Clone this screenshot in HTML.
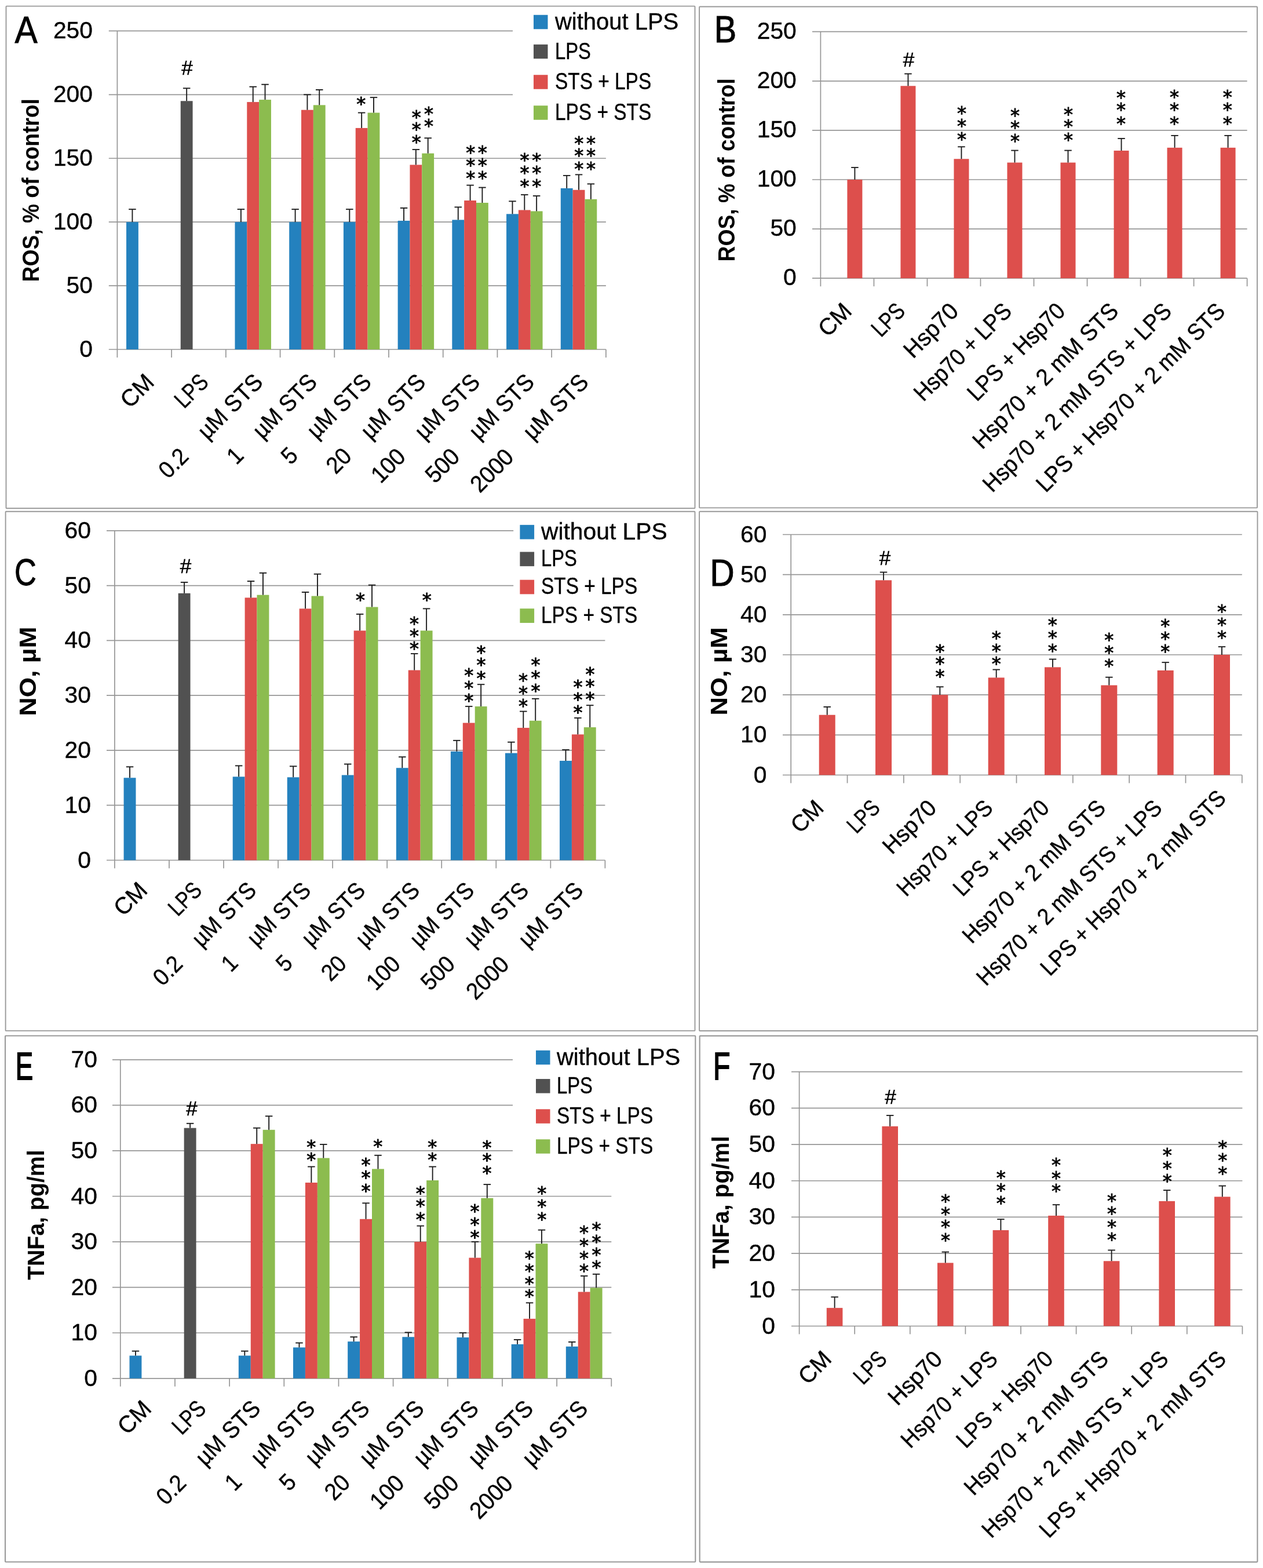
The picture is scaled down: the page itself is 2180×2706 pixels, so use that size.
<!DOCTYPE html>
<html lang="en"><head><meta charset="utf-8"><title>Figure</title>
<style>
html,body{margin:0;padding:0;background:#fff}
svg{display:block}
text{font-family:'Liberation Sans', sans-serif;fill:#000;stroke:#000;stroke-width:0.4px}
text[font-weight=bold]{stroke:none}
.hs{stroke:#000;stroke-width:0.5px}
.lt{stroke:#000;vector-effect:non-scaling-stroke;stroke-linejoin:miter}
.st{font-family:'DejaVu Sans','Liberation Sans',sans-serif;stroke:#000;stroke-width:0.9px}
</style></head><body>
<svg xmlns="http://www.w3.org/2000/svg" width="2180" height="2706" viewBox="0 0 2180 2706">
<rect x="0" y="0" width="2180" height="2706" fill="#fff"/>
<g id="pA">
<rect x="10.5" y="10.6" width="1189" height="866.7" fill="#fff" stroke="#999999" stroke-width="1.9" rx="1"/>
<line x1="187.8" y1="603" x2="1045.9" y2="603" stroke="#969696" stroke-width="1.7"/>
<text transform="translate(160 616)" font-size="40.8" text-anchor="end" xml:space="preserve">0</text>
<line x1="187.8" y1="493.08" x2="1045.9" y2="493.08" stroke="#969696" stroke-width="1.7"/>
<text transform="translate(160 506.08)" font-size="40.8" text-anchor="end" xml:space="preserve">50</text>
<line x1="187.8" y1="383.16" x2="1045.9" y2="383.16" stroke="#969696" stroke-width="1.7"/>
<text transform="translate(160 396.16)" font-size="40.8" text-anchor="end" xml:space="preserve">100</text>
<line x1="187.8" y1="273.24" x2="1045.9" y2="273.24" stroke="#969696" stroke-width="1.7"/>
<text transform="translate(160 286.24)" font-size="40.8" text-anchor="end" xml:space="preserve">150</text>
<line x1="187.8" y1="163.32" x2="885" y2="163.32" stroke="#969696" stroke-width="1.7"/>
<text transform="translate(160 176.32)" font-size="40.8" text-anchor="end" xml:space="preserve">200</text>
<line x1="187.8" y1="53.4" x2="885" y2="53.4" stroke="#969696" stroke-width="1.7"/>
<text transform="translate(160 66.4)" font-size="40.8" text-anchor="end" xml:space="preserve">250</text>
<rect x="218.02" y="383.16" width="20.83" height="219.84" fill="#2481BE"/>
<rect x="311.74" y="174.31" width="20.83" height="428.69" fill="#515151"/>
<rect x="405.46" y="383.16" width="20.83" height="219.84" fill="#2481BE"/>
<rect x="426.29" y="176.07" width="20.83" height="426.93" fill="#DD4F4C"/>
<rect x="447.12" y="172.11" width="20.83" height="430.89" fill="#8CBC4F"/>
<rect x="499.19" y="383.16" width="20.83" height="219.84" fill="#2481BE"/>
<rect x="520.01" y="189.7" width="20.83" height="413.3" fill="#DD4F4C"/>
<rect x="540.84" y="181.35" width="20.83" height="421.65" fill="#8CBC4F"/>
<rect x="592.91" y="383.16" width="20.83" height="219.84" fill="#2481BE"/>
<rect x="613.74" y="220.92" width="20.83" height="382.08" fill="#DD4F4C"/>
<rect x="634.56" y="194.54" width="20.83" height="408.46" fill="#8CBC4F"/>
<rect x="686.63" y="380.96" width="20.83" height="222.04" fill="#2481BE"/>
<rect x="707.46" y="284.45" width="20.83" height="318.55" fill="#DD4F4C"/>
<rect x="728.29" y="264.67" width="20.83" height="338.33" fill="#8CBC4F"/>
<rect x="780.35" y="379.42" width="20.83" height="223.58" fill="#2481BE"/>
<rect x="801.18" y="346.01" width="20.83" height="256.99" fill="#DD4F4C"/>
<rect x="822.01" y="349.96" width="20.83" height="253.04" fill="#8CBC4F"/>
<rect x="874.08" y="369.31" width="20.83" height="233.69" fill="#2481BE"/>
<rect x="894.9" y="362.5" width="20.83" height="240.5" fill="#DD4F4C"/>
<rect x="915.73" y="364.47" width="20.83" height="238.53" fill="#8CBC4F"/>
<rect x="967.8" y="324.9" width="20.83" height="278.1" fill="#2481BE"/>
<rect x="988.63" y="327.76" width="20.83" height="275.24" fill="#DD4F4C"/>
<rect x="1009.45" y="343.81" width="20.83" height="259.19" fill="#8CBC4F"/>
<line x1="202.4" y1="53.4" x2="202.4" y2="617" stroke="#969696" stroke-width="1.7"/>
<line x1="296.12" y1="603" x2="296.12" y2="617" stroke="#969696" stroke-width="1.7"/>
<line x1="389.84" y1="603" x2="389.84" y2="617" stroke="#969696" stroke-width="1.7"/>
<line x1="483.57" y1="603" x2="483.57" y2="617" stroke="#969696" stroke-width="1.7"/>
<line x1="577.29" y1="603" x2="577.29" y2="617" stroke="#969696" stroke-width="1.7"/>
<line x1="671.01" y1="603" x2="671.01" y2="617" stroke="#969696" stroke-width="1.7"/>
<line x1="764.73" y1="603" x2="764.73" y2="617" stroke="#969696" stroke-width="1.7"/>
<line x1="858.46" y1="603" x2="858.46" y2="617" stroke="#969696" stroke-width="1.7"/>
<line x1="952.18" y1="603" x2="952.18" y2="617" stroke="#969696" stroke-width="1.7"/>
<line x1="1045.9" y1="603" x2="1045.9" y2="617" stroke="#969696" stroke-width="1.7"/>
<line x1="228.43" y1="361.18" x2="228.43" y2="383.16" stroke="#1e1e1e" stroke-width="1.9"/>
<line x1="222.18" y1="361.18" x2="234.68" y2="361.18" stroke="#1e1e1e" stroke-width="1.9"/>
<line x1="322.16" y1="152.33" x2="322.16" y2="174.31" stroke="#1e1e1e" stroke-width="1.9"/>
<line x1="315.91" y1="152.33" x2="328.41" y2="152.33" stroke="#1e1e1e" stroke-width="1.9"/>
<line x1="415.88" y1="361.18" x2="415.88" y2="383.16" stroke="#1e1e1e" stroke-width="1.9"/>
<line x1="409.63" y1="361.18" x2="422.13" y2="361.18" stroke="#1e1e1e" stroke-width="1.9"/>
<line x1="436.71" y1="149.69" x2="436.71" y2="176.07" stroke="#1e1e1e" stroke-width="1.9"/>
<line x1="430.46" y1="149.69" x2="442.96" y2="149.69" stroke="#1e1e1e" stroke-width="1.9"/>
<line x1="457.53" y1="145.73" x2="457.53" y2="172.11" stroke="#1e1e1e" stroke-width="1.9"/>
<line x1="451.28" y1="145.73" x2="463.78" y2="145.73" stroke="#1e1e1e" stroke-width="1.9"/>
<line x1="509.6" y1="361.18" x2="509.6" y2="383.16" stroke="#1e1e1e" stroke-width="1.9"/>
<line x1="503.35" y1="361.18" x2="515.85" y2="361.18" stroke="#1e1e1e" stroke-width="1.9"/>
<line x1="530.43" y1="163.32" x2="530.43" y2="189.7" stroke="#1e1e1e" stroke-width="1.9"/>
<line x1="524.18" y1="163.32" x2="536.68" y2="163.32" stroke="#1e1e1e" stroke-width="1.9"/>
<line x1="551.25" y1="154.97" x2="551.25" y2="181.35" stroke="#1e1e1e" stroke-width="1.9"/>
<line x1="545" y1="154.97" x2="557.5" y2="154.97" stroke="#1e1e1e" stroke-width="1.9"/>
<line x1="603.32" y1="361.18" x2="603.32" y2="383.16" stroke="#1e1e1e" stroke-width="1.9"/>
<line x1="597.07" y1="361.18" x2="609.57" y2="361.18" stroke="#1e1e1e" stroke-width="1.9"/>
<line x1="624.15" y1="194.54" x2="624.15" y2="220.92" stroke="#1e1e1e" stroke-width="1.9"/>
<line x1="617.9" y1="194.54" x2="630.4" y2="194.54" stroke="#1e1e1e" stroke-width="1.9"/>
<line x1="644.98" y1="168.16" x2="644.98" y2="194.54" stroke="#1e1e1e" stroke-width="1.9"/>
<line x1="638.73" y1="168.16" x2="651.23" y2="168.16" stroke="#1e1e1e" stroke-width="1.9"/>
<line x1="697.05" y1="358.98" x2="697.05" y2="380.96" stroke="#1e1e1e" stroke-width="1.9"/>
<line x1="690.8" y1="358.98" x2="703.3" y2="358.98" stroke="#1e1e1e" stroke-width="1.9"/>
<line x1="717.87" y1="258.07" x2="717.87" y2="284.45" stroke="#1e1e1e" stroke-width="1.9"/>
<line x1="711.62" y1="258.07" x2="724.12" y2="258.07" stroke="#1e1e1e" stroke-width="1.9"/>
<line x1="738.7" y1="238.29" x2="738.7" y2="264.67" stroke="#1e1e1e" stroke-width="1.9"/>
<line x1="732.45" y1="238.29" x2="744.95" y2="238.29" stroke="#1e1e1e" stroke-width="1.9"/>
<line x1="790.77" y1="357.44" x2="790.77" y2="379.42" stroke="#1e1e1e" stroke-width="1.9"/>
<line x1="784.52" y1="357.44" x2="797.02" y2="357.44" stroke="#1e1e1e" stroke-width="1.9"/>
<line x1="811.59" y1="319.63" x2="811.59" y2="346.01" stroke="#1e1e1e" stroke-width="1.9"/>
<line x1="805.34" y1="319.63" x2="817.84" y2="319.63" stroke="#1e1e1e" stroke-width="1.9"/>
<line x1="832.42" y1="323.58" x2="832.42" y2="349.96" stroke="#1e1e1e" stroke-width="1.9"/>
<line x1="826.17" y1="323.58" x2="838.67" y2="323.58" stroke="#1e1e1e" stroke-width="1.9"/>
<line x1="884.49" y1="347.33" x2="884.49" y2="369.31" stroke="#1e1e1e" stroke-width="1.9"/>
<line x1="878.24" y1="347.33" x2="890.74" y2="347.33" stroke="#1e1e1e" stroke-width="1.9"/>
<line x1="905.32" y1="336.11" x2="905.32" y2="362.5" stroke="#1e1e1e" stroke-width="1.9"/>
<line x1="899.07" y1="336.11" x2="911.57" y2="336.11" stroke="#1e1e1e" stroke-width="1.9"/>
<line x1="926.14" y1="338.09" x2="926.14" y2="364.47" stroke="#1e1e1e" stroke-width="1.9"/>
<line x1="919.89" y1="338.09" x2="932.39" y2="338.09" stroke="#1e1e1e" stroke-width="1.9"/>
<line x1="978.21" y1="302.92" x2="978.21" y2="324.9" stroke="#1e1e1e" stroke-width="1.9"/>
<line x1="971.96" y1="302.92" x2="984.46" y2="302.92" stroke="#1e1e1e" stroke-width="1.9"/>
<line x1="999.04" y1="301.38" x2="999.04" y2="327.76" stroke="#1e1e1e" stroke-width="1.9"/>
<line x1="992.79" y1="301.38" x2="1005.29" y2="301.38" stroke="#1e1e1e" stroke-width="1.9"/>
<line x1="1019.87" y1="317.43" x2="1019.87" y2="343.81" stroke="#1e1e1e" stroke-width="1.9"/>
<line x1="1013.62" y1="317.43" x2="1026.12" y2="317.43" stroke="#1e1e1e" stroke-width="1.9"/>
<text transform="translate(268.46 662) rotate(-45) scale(0.9862 1)" font-size="40.73" text-anchor="end" xml:space="preserve">CM</text>
<text transform="translate(362.18 662) rotate(-45) scale(0.8164 1)" font-size="40.73" text-anchor="end" xml:space="preserve">LPS</text>
<text transform="translate(455.91 662) rotate(-45) scale(0.9383 1)" font-size="40.73" text-anchor="end" xml:space="preserve">0.2    µM STS</text>
<text transform="translate(549.63 662) rotate(-45) scale(0.9276 1)" font-size="40.73" text-anchor="end" xml:space="preserve">1    µM STS</text>
<text transform="translate(643.35 662) rotate(-45) scale(0.9276 1)" font-size="40.73" text-anchor="end" xml:space="preserve">5    µM STS</text>
<text transform="translate(737.07 662) rotate(-45) scale(0.9352 1)" font-size="40.73" text-anchor="end" xml:space="preserve">20    µM STS</text>
<text transform="translate(830.79 662) rotate(-45) scale(0.9414 1)" font-size="40.73" text-anchor="end" xml:space="preserve">100    µM STS</text>
<text transform="translate(924.52 662) rotate(-45) scale(0.9414 1)" font-size="40.73" text-anchor="end" xml:space="preserve">500    µM STS</text>
<text transform="translate(1018.24 662) rotate(-45) scale(0.9466 1)" font-size="40.73" text-anchor="end" xml:space="preserve">2000    µM STS</text>
<text transform="translate(623.3 189.54)" font-size="32" text-anchor="middle" class="st" xml:space="preserve">*</text>
<text transform="translate(718.7 212.54)" font-size="32" text-anchor="middle" class="st" xml:space="preserve">*</text>
<text transform="translate(718.7 233.94)" font-size="32" text-anchor="middle" class="st" xml:space="preserve">*</text>
<text transform="translate(718.7 255.54)" font-size="32" text-anchor="middle" class="st" xml:space="preserve">*</text>
<text transform="translate(740 207.14)" font-size="32" text-anchor="middle" class="st" xml:space="preserve">*</text>
<text transform="translate(740 228.44)" font-size="32" text-anchor="middle" class="st" xml:space="preserve">*</text>
<text transform="translate(812.3 274.24)" font-size="32" text-anchor="middle" class="st" xml:space="preserve">*</text>
<text transform="translate(812.3 295.84)" font-size="32" text-anchor="middle" class="st" xml:space="preserve">*</text>
<text transform="translate(812.3 318.04)" font-size="32" text-anchor="middle" class="st" xml:space="preserve">*</text>
<text transform="translate(832.7 274.24)" font-size="32" text-anchor="middle" class="st" xml:space="preserve">*</text>
<text transform="translate(832.7 295.84)" font-size="32" text-anchor="middle" class="st" xml:space="preserve">*</text>
<text transform="translate(832.7 318.04)" font-size="32" text-anchor="middle" class="st" xml:space="preserve">*</text>
<text transform="translate(905.6 287.14)" font-size="32" text-anchor="middle" class="st" xml:space="preserve">*</text>
<text transform="translate(905.6 309.34)" font-size="32" text-anchor="middle" class="st" xml:space="preserve">*</text>
<text transform="translate(905.6 332.44)" font-size="32" text-anchor="middle" class="st" xml:space="preserve">*</text>
<text transform="translate(926.3 287.14)" font-size="32" text-anchor="middle" class="st" xml:space="preserve">*</text>
<text transform="translate(926.3 309.34)" font-size="32" text-anchor="middle" class="st" xml:space="preserve">*</text>
<text transform="translate(926.3 332.44)" font-size="32" text-anchor="middle" class="st" xml:space="preserve">*</text>
<text transform="translate(999.2 257.84)" font-size="32" text-anchor="middle" class="st" xml:space="preserve">*</text>
<text transform="translate(999.2 279.14)" font-size="32" text-anchor="middle" class="st" xml:space="preserve">*</text>
<text transform="translate(999.2 301.84)" font-size="32" text-anchor="middle" class="st" xml:space="preserve">*</text>
<text transform="translate(1019.9 257.84)" font-size="32" text-anchor="middle" class="st" xml:space="preserve">*</text>
<text transform="translate(1019.9 279.14)" font-size="32" text-anchor="middle" class="st" xml:space="preserve">*</text>
<text transform="translate(1019.9 301.84)" font-size="32" text-anchor="middle" class="st" xml:space="preserve">*</text>
<text transform="translate(322.9 129.3)" font-size="35" text-anchor="middle" class="hs" xml:space="preserve">#</text>
<text transform="translate(25.53 73.55) scale(0.5882 0.6570)" font-size="100" class="lt" style="stroke-width:0.9px">A</text>
<text transform="translate(66.6 328.3) rotate(-90) scale(0.9137 1)" font-size="40.73" text-anchor="middle" font-weight="bold" xml:space="preserve">ROS, % of control</text>
<rect x="921" y="25.75" width="24.5" height="24.5" fill="#2481BE"/>
<text transform="translate(958 50.8) scale(0.9970 1)" font-size="40.09" xml:space="preserve">without LPS</text>
<rect x="921" y="76.75" width="24.5" height="24.5" fill="#515151"/>
<text transform="translate(958 101.8) scale(0.8164 1)" font-size="40.09" xml:space="preserve">LPS</text>
<rect x="921" y="129.25" width="24.5" height="24.5" fill="#DD4F4C"/>
<text transform="translate(958 154.3) scale(0.8336 1)" font-size="40.09" xml:space="preserve">STS + LPS</text>
<rect x="921" y="182.25" width="24.5" height="24.5" fill="#8CBC4F"/>
<text transform="translate(958 207.3) scale(0.8336 1)" font-size="40.09" xml:space="preserve">LPS + STS</text>
</g>
<g id="pB">
<rect x="1207.1" y="11.5" width="962.9" height="864.9" fill="#fff" stroke="#999999" stroke-width="1.9" rx="1"/>
<line x1="1402" y1="480.2" x2="2152.6" y2="480.2" stroke="#969696" stroke-width="1.7"/>
<text transform="translate(1374.8 492.2)" font-size="40.8" text-anchor="end" xml:space="preserve">0</text>
<line x1="1402" y1="395.1" x2="2152.6" y2="395.1" stroke="#969696" stroke-width="1.7"/>
<text transform="translate(1374.8 407.1)" font-size="40.8" text-anchor="end" xml:space="preserve">50</text>
<line x1="1402" y1="310" x2="2152.6" y2="310" stroke="#969696" stroke-width="1.7"/>
<text transform="translate(1374.8 322)" font-size="40.8" text-anchor="end" xml:space="preserve">100</text>
<line x1="1402" y1="224.9" x2="2152.6" y2="224.9" stroke="#969696" stroke-width="1.7"/>
<text transform="translate(1374.8 236.9)" font-size="40.8" text-anchor="end" xml:space="preserve">150</text>
<line x1="1402" y1="139.8" x2="2152.6" y2="139.8" stroke="#969696" stroke-width="1.7"/>
<text transform="translate(1374.8 151.8)" font-size="40.8" text-anchor="end" xml:space="preserve">200</text>
<line x1="1402" y1="54.7" x2="2152.6" y2="54.7" stroke="#969696" stroke-width="1.7"/>
<text transform="translate(1374.8 66.7)" font-size="40.8" text-anchor="end" xml:space="preserve">250</text>
<rect x="1462.4" y="310" width="26" height="170.2" fill="#DD4F4C"/>
<rect x="1554.43" y="148.31" width="26" height="331.89" fill="#DD4F4C"/>
<rect x="1646.45" y="274.26" width="26" height="205.94" fill="#DD4F4C"/>
<rect x="1738.47" y="280.56" width="26" height="199.64" fill="#DD4F4C"/>
<rect x="1830.5" y="280.56" width="26" height="199.64" fill="#DD4F4C"/>
<rect x="1922.53" y="259.96" width="26" height="220.24" fill="#DD4F4C"/>
<rect x="2014.55" y="254.86" width="26" height="225.34" fill="#DD4F4C"/>
<rect x="2106.57" y="254.86" width="26" height="225.34" fill="#DD4F4C"/>
<line x1="1416.4" y1="54.7" x2="1416.4" y2="494.2" stroke="#969696" stroke-width="1.7"/>
<line x1="1508.43" y1="480.2" x2="1508.43" y2="494.2" stroke="#969696" stroke-width="1.7"/>
<line x1="1600.45" y1="480.2" x2="1600.45" y2="494.2" stroke="#969696" stroke-width="1.7"/>
<line x1="1692.47" y1="480.2" x2="1692.47" y2="494.2" stroke="#969696" stroke-width="1.7"/>
<line x1="1784.5" y1="480.2" x2="1784.5" y2="494.2" stroke="#969696" stroke-width="1.7"/>
<line x1="1876.53" y1="480.2" x2="1876.53" y2="494.2" stroke="#969696" stroke-width="1.7"/>
<line x1="1968.55" y1="480.2" x2="1968.55" y2="494.2" stroke="#969696" stroke-width="1.7"/>
<line x1="2060.57" y1="480.2" x2="2060.57" y2="494.2" stroke="#969696" stroke-width="1.7"/>
<line x1="2152.6" y1="480.2" x2="2152.6" y2="494.2" stroke="#969696" stroke-width="1.7"/>
<line x1="1475.4" y1="289.07" x2="1475.4" y2="310" stroke="#1e1e1e" stroke-width="1.9"/>
<line x1="1469.15" y1="289.07" x2="1481.65" y2="289.07" stroke="#1e1e1e" stroke-width="1.9"/>
<line x1="1567.43" y1="127.38" x2="1567.43" y2="148.31" stroke="#1e1e1e" stroke-width="1.9"/>
<line x1="1561.18" y1="127.38" x2="1573.68" y2="127.38" stroke="#1e1e1e" stroke-width="1.9"/>
<line x1="1659.45" y1="253.32" x2="1659.45" y2="274.26" stroke="#1e1e1e" stroke-width="1.9"/>
<line x1="1653.2" y1="253.32" x2="1665.7" y2="253.32" stroke="#1e1e1e" stroke-width="1.9"/>
<line x1="1751.47" y1="259.62" x2="1751.47" y2="280.56" stroke="#1e1e1e" stroke-width="1.9"/>
<line x1="1745.22" y1="259.62" x2="1757.72" y2="259.62" stroke="#1e1e1e" stroke-width="1.9"/>
<line x1="1843.5" y1="259.62" x2="1843.5" y2="280.56" stroke="#1e1e1e" stroke-width="1.9"/>
<line x1="1837.25" y1="259.62" x2="1849.75" y2="259.62" stroke="#1e1e1e" stroke-width="1.9"/>
<line x1="1935.53" y1="239.03" x2="1935.53" y2="259.96" stroke="#1e1e1e" stroke-width="1.9"/>
<line x1="1929.28" y1="239.03" x2="1941.78" y2="239.03" stroke="#1e1e1e" stroke-width="1.9"/>
<line x1="2027.55" y1="233.92" x2="2027.55" y2="254.86" stroke="#1e1e1e" stroke-width="1.9"/>
<line x1="2021.3" y1="233.92" x2="2033.8" y2="233.92" stroke="#1e1e1e" stroke-width="1.9"/>
<line x1="2119.57" y1="233.92" x2="2119.57" y2="254.86" stroke="#1e1e1e" stroke-width="1.9"/>
<line x1="2113.32" y1="233.92" x2="2125.82" y2="233.92" stroke="#1e1e1e" stroke-width="1.9"/>
<text transform="translate(1472.61 539.5) rotate(-45) scale(0.9862 1)" font-size="40.45" text-anchor="end" xml:space="preserve">CM</text>
<text transform="translate(1564.64 539.5) rotate(-45) scale(0.8164 1)" font-size="40.45" text-anchor="end" xml:space="preserve">LPS</text>
<text transform="translate(1656.66 539.5) rotate(-45) scale(0.9760 1)" font-size="40.45" text-anchor="end" xml:space="preserve">Hsp70</text>
<text transform="translate(1748.69 539.5) rotate(-45) scale(0.9145 1)" font-size="40.45" text-anchor="end" xml:space="preserve">Hsp70 + LPS</text>
<text transform="translate(1840.71 539.5) rotate(-45) scale(0.9145 1)" font-size="40.45" text-anchor="end" xml:space="preserve">LPS + Hsp70</text>
<text transform="translate(1932.74 539.5) rotate(-45) scale(0.9496 1)" font-size="40.45" text-anchor="end" xml:space="preserve">Hsp70 + 2 mM STS</text>
<text transform="translate(2024.76 539.5) rotate(-45) scale(0.9255 1)" font-size="40.45" text-anchor="end" xml:space="preserve">Hsp70 + 2 mM STS + LPS</text>
<text transform="translate(2116.79 539.5) rotate(-45) scale(0.9255 1)" font-size="40.45" text-anchor="end" xml:space="preserve">LPS + Hsp70 + 2 mM STS</text>
<text transform="translate(1660 205.94)" font-size="32" text-anchor="middle" class="st" xml:space="preserve">*</text>
<text transform="translate(1660 227.74)" font-size="32" text-anchor="middle" class="st" xml:space="preserve">*</text>
<text transform="translate(1660 250.74)" font-size="32" text-anchor="middle" class="st" xml:space="preserve">*</text>
<text transform="translate(1752.1 209.54)" font-size="32" text-anchor="middle" class="st" xml:space="preserve">*</text>
<text transform="translate(1752.1 231.34)" font-size="32" text-anchor="middle" class="st" xml:space="preserve">*</text>
<text transform="translate(1752.1 253.64)" font-size="32" text-anchor="middle" class="st" xml:space="preserve">*</text>
<text transform="translate(1844 208.34)" font-size="32" text-anchor="middle" class="st" xml:space="preserve">*</text>
<text transform="translate(1844 229.44)" font-size="32" text-anchor="middle" class="st" xml:space="preserve">*</text>
<text transform="translate(1844 252.44)" font-size="32" text-anchor="middle" class="st" xml:space="preserve">*</text>
<text transform="translate(1934.9 178.84)" font-size="32" text-anchor="middle" class="st" xml:space="preserve">*</text>
<text transform="translate(1934.9 200.34)" font-size="32" text-anchor="middle" class="st" xml:space="preserve">*</text>
<text transform="translate(1934.9 223.64)" font-size="32" text-anchor="middle" class="st" xml:space="preserve">*</text>
<text transform="translate(2026.9 177.64)" font-size="32" text-anchor="middle" class="st" xml:space="preserve">*</text>
<text transform="translate(2026.9 199.94)" font-size="32" text-anchor="middle" class="st" xml:space="preserve">*</text>
<text transform="translate(2026.9 223.64)" font-size="32" text-anchor="middle" class="st" xml:space="preserve">*</text>
<text transform="translate(2118.8 177.64)" font-size="32" text-anchor="middle" class="st" xml:space="preserve">*</text>
<text transform="translate(2118.8 199.94)" font-size="32" text-anchor="middle" class="st" xml:space="preserve">*</text>
<text transform="translate(2118.8 223.64)" font-size="32" text-anchor="middle" class="st" xml:space="preserve">*</text>
<text transform="translate(1568.5 115)" font-size="35" text-anchor="middle" class="hs" xml:space="preserve">#</text>
<text transform="translate(1232.87 72.9) scale(0.5771 0.6395)" font-size="100" class="lt" style="stroke-width:1.0px">B</text>
<text transform="translate(1268.2 293.3) rotate(-90) scale(0.9137 1)" font-size="40.73" text-anchor="middle" font-weight="bold" xml:space="preserve">ROS, % of control</text>
</g>
<g id="pC">
<rect x="9.6" y="882.8" width="1189.9" height="896.1" fill="#fff" stroke="#999999" stroke-width="1.9" rx="1"/>
<line x1="184" y1="1484.5" x2="1044.4" y2="1484.5" stroke="#969696" stroke-width="1.7"/>
<text transform="translate(157 1497.5)" font-size="40.8" text-anchor="end" xml:space="preserve">0</text>
<line x1="184" y1="1389.72" x2="1044.4" y2="1389.72" stroke="#969696" stroke-width="1.7"/>
<text transform="translate(157 1402.72)" font-size="40.8" text-anchor="end" xml:space="preserve">10</text>
<line x1="184" y1="1294.93" x2="1044.4" y2="1294.93" stroke="#969696" stroke-width="1.7"/>
<text transform="translate(157 1307.93)" font-size="40.8" text-anchor="end" xml:space="preserve">20</text>
<line x1="184" y1="1200.15" x2="1044.4" y2="1200.15" stroke="#969696" stroke-width="1.7"/>
<text transform="translate(157 1213.15)" font-size="40.8" text-anchor="end" xml:space="preserve">30</text>
<line x1="184" y1="1105.37" x2="1044.4" y2="1105.37" stroke="#969696" stroke-width="1.7"/>
<text transform="translate(157 1118.37)" font-size="40.8" text-anchor="end" xml:space="preserve">40</text>
<line x1="184" y1="1010.58" x2="886.2" y2="1010.58" stroke="#969696" stroke-width="1.7"/>
<text transform="translate(157 1023.58)" font-size="40.8" text-anchor="end" xml:space="preserve">50</text>
<line x1="184" y1="915.8" x2="886.2" y2="915.8" stroke="#969696" stroke-width="1.7"/>
<text transform="translate(157 928.8)" font-size="40.8" text-anchor="end" xml:space="preserve">60</text>
<rect x="213.58" y="1342.33" width="20.9" height="142.17" fill="#2481BE"/>
<rect x="307.63" y="1023.85" width="20.9" height="460.65" fill="#515151"/>
<rect x="401.69" y="1340.43" width="20.9" height="144.07" fill="#2481BE"/>
<rect x="422.59" y="1031.44" width="20.9" height="453.06" fill="#DD4F4C"/>
<rect x="443.49" y="1026.7" width="20.9" height="457.8" fill="#8CBC4F"/>
<rect x="495.74" y="1341.38" width="20.9" height="143.12" fill="#2481BE"/>
<rect x="516.64" y="1050.39" width="20.9" height="434.11" fill="#DD4F4C"/>
<rect x="537.55" y="1028.59" width="20.9" height="455.91" fill="#8CBC4F"/>
<rect x="589.8" y="1337.59" width="20.9" height="146.91" fill="#2481BE"/>
<rect x="610.7" y="1088.31" width="20.9" height="396.19" fill="#DD4F4C"/>
<rect x="631.6" y="1047.55" width="20.9" height="436.95" fill="#8CBC4F"/>
<rect x="683.85" y="1325.26" width="20.9" height="159.24" fill="#2481BE"/>
<rect x="704.75" y="1156.55" width="20.9" height="327.95" fill="#DD4F4C"/>
<rect x="725.66" y="1088.31" width="20.9" height="396.19" fill="#8CBC4F"/>
<rect x="777.91" y="1296.83" width="20.9" height="187.67" fill="#2481BE"/>
<rect x="798.81" y="1247.54" width="20.9" height="236.96" fill="#DD4F4C"/>
<rect x="819.71" y="1219.11" width="20.9" height="265.39" fill="#8CBC4F"/>
<rect x="871.96" y="1299.67" width="20.9" height="184.83" fill="#2481BE"/>
<rect x="892.87" y="1256.07" width="20.9" height="228.43" fill="#DD4F4C"/>
<rect x="913.77" y="1243.75" width="20.9" height="240.75" fill="#8CBC4F"/>
<rect x="966.02" y="1312.94" width="20.9" height="171.56" fill="#2481BE"/>
<rect x="986.92" y="1267.45" width="20.9" height="217.05" fill="#DD4F4C"/>
<rect x="1007.82" y="1255.12" width="20.9" height="229.38" fill="#8CBC4F"/>
<line x1="197.9" y1="915.8" x2="197.9" y2="1498.5" stroke="#969696" stroke-width="1.7"/>
<line x1="291.96" y1="1484.5" x2="291.96" y2="1498.5" stroke="#969696" stroke-width="1.7"/>
<line x1="386.01" y1="1484.5" x2="386.01" y2="1498.5" stroke="#969696" stroke-width="1.7"/>
<line x1="480.07" y1="1484.5" x2="480.07" y2="1498.5" stroke="#969696" stroke-width="1.7"/>
<line x1="574.12" y1="1484.5" x2="574.12" y2="1498.5" stroke="#969696" stroke-width="1.7"/>
<line x1="668.18" y1="1484.5" x2="668.18" y2="1498.5" stroke="#969696" stroke-width="1.7"/>
<line x1="762.23" y1="1484.5" x2="762.23" y2="1498.5" stroke="#969696" stroke-width="1.7"/>
<line x1="856.29" y1="1484.5" x2="856.29" y2="1498.5" stroke="#969696" stroke-width="1.7"/>
<line x1="950.34" y1="1484.5" x2="950.34" y2="1498.5" stroke="#969696" stroke-width="1.7"/>
<line x1="1044.4" y1="1484.5" x2="1044.4" y2="1498.5" stroke="#969696" stroke-width="1.7"/>
<line x1="224.03" y1="1323.37" x2="224.03" y2="1342.33" stroke="#1e1e1e" stroke-width="1.9"/>
<line x1="217.78" y1="1323.37" x2="230.28" y2="1323.37" stroke="#1e1e1e" stroke-width="1.9"/>
<line x1="318.08" y1="1004.9" x2="318.08" y2="1023.85" stroke="#1e1e1e" stroke-width="1.9"/>
<line x1="311.83" y1="1004.9" x2="324.33" y2="1004.9" stroke="#1e1e1e" stroke-width="1.9"/>
<line x1="412.14" y1="1321.47" x2="412.14" y2="1340.43" stroke="#1e1e1e" stroke-width="1.9"/>
<line x1="405.89" y1="1321.47" x2="418.39" y2="1321.47" stroke="#1e1e1e" stroke-width="1.9"/>
<line x1="433.04" y1="1003" x2="433.04" y2="1031.44" stroke="#1e1e1e" stroke-width="1.9"/>
<line x1="426.79" y1="1003" x2="439.29" y2="1003" stroke="#1e1e1e" stroke-width="1.9"/>
<line x1="453.94" y1="988.78" x2="453.94" y2="1026.7" stroke="#1e1e1e" stroke-width="1.9"/>
<line x1="447.69" y1="988.78" x2="460.19" y2="988.78" stroke="#1e1e1e" stroke-width="1.9"/>
<line x1="506.19" y1="1322.42" x2="506.19" y2="1341.38" stroke="#1e1e1e" stroke-width="1.9"/>
<line x1="499.94" y1="1322.42" x2="512.44" y2="1322.42" stroke="#1e1e1e" stroke-width="1.9"/>
<line x1="527.09" y1="1021.96" x2="527.09" y2="1050.39" stroke="#1e1e1e" stroke-width="1.9"/>
<line x1="520.84" y1="1021.96" x2="533.34" y2="1021.96" stroke="#1e1e1e" stroke-width="1.9"/>
<line x1="548" y1="990.68" x2="548" y2="1028.59" stroke="#1e1e1e" stroke-width="1.9"/>
<line x1="541.75" y1="990.68" x2="554.25" y2="990.68" stroke="#1e1e1e" stroke-width="1.9"/>
<line x1="600.25" y1="1318.63" x2="600.25" y2="1337.59" stroke="#1e1e1e" stroke-width="1.9"/>
<line x1="594" y1="1318.63" x2="606.5" y2="1318.63" stroke="#1e1e1e" stroke-width="1.9"/>
<line x1="621.15" y1="1059.87" x2="621.15" y2="1088.31" stroke="#1e1e1e" stroke-width="1.9"/>
<line x1="614.9" y1="1059.87" x2="627.4" y2="1059.87" stroke="#1e1e1e" stroke-width="1.9"/>
<line x1="642.05" y1="1009.64" x2="642.05" y2="1047.55" stroke="#1e1e1e" stroke-width="1.9"/>
<line x1="635.8" y1="1009.64" x2="648.3" y2="1009.64" stroke="#1e1e1e" stroke-width="1.9"/>
<line x1="694.3" y1="1306.31" x2="694.3" y2="1325.26" stroke="#1e1e1e" stroke-width="1.9"/>
<line x1="688.05" y1="1306.31" x2="700.55" y2="1306.31" stroke="#1e1e1e" stroke-width="1.9"/>
<line x1="715.21" y1="1128.11" x2="715.21" y2="1156.55" stroke="#1e1e1e" stroke-width="1.9"/>
<line x1="708.96" y1="1128.11" x2="721.46" y2="1128.11" stroke="#1e1e1e" stroke-width="1.9"/>
<line x1="736.11" y1="1050.39" x2="736.11" y2="1088.31" stroke="#1e1e1e" stroke-width="1.9"/>
<line x1="729.86" y1="1050.39" x2="742.36" y2="1050.39" stroke="#1e1e1e" stroke-width="1.9"/>
<line x1="788.36" y1="1277.87" x2="788.36" y2="1296.83" stroke="#1e1e1e" stroke-width="1.9"/>
<line x1="782.11" y1="1277.87" x2="794.61" y2="1277.87" stroke="#1e1e1e" stroke-width="1.9"/>
<line x1="809.26" y1="1219.11" x2="809.26" y2="1247.54" stroke="#1e1e1e" stroke-width="1.9"/>
<line x1="803.01" y1="1219.11" x2="815.51" y2="1219.11" stroke="#1e1e1e" stroke-width="1.9"/>
<line x1="830.16" y1="1181.19" x2="830.16" y2="1219.11" stroke="#1e1e1e" stroke-width="1.9"/>
<line x1="823.91" y1="1181.19" x2="836.41" y2="1181.19" stroke="#1e1e1e" stroke-width="1.9"/>
<line x1="882.42" y1="1280.72" x2="882.42" y2="1299.67" stroke="#1e1e1e" stroke-width="1.9"/>
<line x1="876.17" y1="1280.72" x2="888.67" y2="1280.72" stroke="#1e1e1e" stroke-width="1.9"/>
<line x1="903.32" y1="1227.64" x2="903.32" y2="1256.07" stroke="#1e1e1e" stroke-width="1.9"/>
<line x1="897.07" y1="1227.64" x2="909.57" y2="1227.64" stroke="#1e1e1e" stroke-width="1.9"/>
<line x1="924.22" y1="1205.84" x2="924.22" y2="1243.75" stroke="#1e1e1e" stroke-width="1.9"/>
<line x1="917.97" y1="1205.84" x2="930.47" y2="1205.84" stroke="#1e1e1e" stroke-width="1.9"/>
<line x1="976.47" y1="1293.99" x2="976.47" y2="1312.94" stroke="#1e1e1e" stroke-width="1.9"/>
<line x1="970.22" y1="1293.99" x2="982.72" y2="1293.99" stroke="#1e1e1e" stroke-width="1.9"/>
<line x1="997.37" y1="1239.01" x2="997.37" y2="1267.45" stroke="#1e1e1e" stroke-width="1.9"/>
<line x1="991.12" y1="1239.01" x2="1003.62" y2="1239.01" stroke="#1e1e1e" stroke-width="1.9"/>
<line x1="1018.27" y1="1217.21" x2="1018.27" y2="1255.12" stroke="#1e1e1e" stroke-width="1.9"/>
<line x1="1012.02" y1="1217.21" x2="1024.52" y2="1217.21" stroke="#1e1e1e" stroke-width="1.9"/>
<text transform="translate(256.63 1539) rotate(-45) scale(0.9862 1)" font-size="40.36" text-anchor="end" xml:space="preserve">CM</text>
<text transform="translate(350.68 1539) rotate(-45) scale(0.8164 1)" font-size="40.36" text-anchor="end" xml:space="preserve">LPS</text>
<text transform="translate(444.74 1539) rotate(-45) scale(0.9383 1)" font-size="40.36" text-anchor="end" xml:space="preserve">0.2    µM STS</text>
<text transform="translate(538.79 1539) rotate(-45) scale(0.9276 1)" font-size="40.36" text-anchor="end" xml:space="preserve">1    µM STS</text>
<text transform="translate(632.85 1539) rotate(-45) scale(0.9276 1)" font-size="40.36" text-anchor="end" xml:space="preserve">5    µM STS</text>
<text transform="translate(726.91 1539) rotate(-45) scale(0.9352 1)" font-size="40.36" text-anchor="end" xml:space="preserve">20    µM STS</text>
<text transform="translate(820.96 1539) rotate(-45) scale(0.9414 1)" font-size="40.36" text-anchor="end" xml:space="preserve">100    µM STS</text>
<text transform="translate(915.02 1539) rotate(-45) scale(0.9414 1)" font-size="40.36" text-anchor="end" xml:space="preserve">500    µM STS</text>
<text transform="translate(1009.07 1539) rotate(-45) scale(0.9466 1)" font-size="40.36" text-anchor="end" xml:space="preserve">2000    µM STS</text>
<text transform="translate(622 1046.14)" font-size="32" text-anchor="middle" class="st" xml:space="preserve">*</text>
<text transform="translate(715.1 1086.54)" font-size="32" text-anchor="middle" class="st" xml:space="preserve">*</text>
<text transform="translate(715.1 1107.54)" font-size="32" text-anchor="middle" class="st" xml:space="preserve">*</text>
<text transform="translate(715.1 1129.74)" font-size="32" text-anchor="middle" class="st" xml:space="preserve">*</text>
<text transform="translate(736.7 1046.14)" font-size="32" text-anchor="middle" class="st" xml:space="preserve">*</text>
<text transform="translate(809.2 1176.34)" font-size="32" text-anchor="middle" class="st" xml:space="preserve">*</text>
<text transform="translate(809.2 1198.24)" font-size="32" text-anchor="middle" class="st" xml:space="preserve">*</text>
<text transform="translate(809.2 1220.04)" font-size="32" text-anchor="middle" class="st" xml:space="preserve">*</text>
<text transform="translate(830.6 1136.94)" font-size="32" text-anchor="middle" class="st" xml:space="preserve">*</text>
<text transform="translate(830.6 1158.34)" font-size="32" text-anchor="middle" class="st" xml:space="preserve">*</text>
<text transform="translate(830.6 1180.54)" font-size="32" text-anchor="middle" class="st" xml:space="preserve">*</text>
<text transform="translate(903 1184.74)" font-size="32" text-anchor="middle" class="st" xml:space="preserve">*</text>
<text transform="translate(903 1206.54)" font-size="32" text-anchor="middle" class="st" xml:space="preserve">*</text>
<text transform="translate(903 1228.74)" font-size="32" text-anchor="middle" class="st" xml:space="preserve">*</text>
<text transform="translate(924.4 1158.24)" font-size="32" text-anchor="middle" class="st" xml:space="preserve">*</text>
<text transform="translate(924.4 1180.14)" font-size="32" text-anchor="middle" class="st" xml:space="preserve">*</text>
<text transform="translate(924.4 1202.54)" font-size="32" text-anchor="middle" class="st" xml:space="preserve">*</text>
<text transform="translate(997.4 1195.94)" font-size="32" text-anchor="middle" class="st" xml:space="preserve">*</text>
<text transform="translate(997.4 1218.04)" font-size="32" text-anchor="middle" class="st" xml:space="preserve">*</text>
<text transform="translate(997.4 1240.34)" font-size="32" text-anchor="middle" class="st" xml:space="preserve">*</text>
<text transform="translate(1018.4 1173.54)" font-size="32" text-anchor="middle" class="st" xml:space="preserve">*</text>
<text transform="translate(1018.4 1195.44)" font-size="32" text-anchor="middle" class="st" xml:space="preserve">*</text>
<text transform="translate(1018.4 1217.34)" font-size="32" text-anchor="middle" class="st" xml:space="preserve">*</text>
<text transform="translate(320.4 989.3)" font-size="35" text-anchor="middle" class="hs" xml:space="preserve">#</text>
<text transform="translate(25.08 1010.4) scale(0.5229 0.6455)" font-size="100" class="lt" style="stroke-width:0.9px">C</text>
<text transform="translate(62 1158.6) rotate(-90) scale(1.0928 1)" font-size="40.73" text-anchor="middle" font-weight="bold" xml:space="preserve">NO, µM</text>
<rect x="897.4" y="905.85" width="24.7" height="24.7" fill="#2481BE"/>
<text transform="translate(934 930.5) scale(1.0179 1)" font-size="40.09" xml:space="preserve">without LPS</text>
<rect x="897.4" y="952.45" width="24.7" height="24.7" fill="#515151"/>
<text transform="translate(934 977.1) scale(0.8164 1)" font-size="40.09" xml:space="preserve">LPS</text>
<rect x="897.4" y="1000.65" width="24.7" height="24.7" fill="#DD4F4C"/>
<text transform="translate(934 1025.3) scale(0.8336 1)" font-size="40.09" xml:space="preserve">STS + LPS</text>
<rect x="897.4" y="1050.25" width="24.7" height="24.7" fill="#8CBC4F"/>
<text transform="translate(934 1074.9) scale(0.8336 1)" font-size="40.09" xml:space="preserve">LPS + STS</text>
</g>
<g id="pD">
<rect x="1207.1" y="882.7" width="963.4" height="896.3" fill="#fff" stroke="#999999" stroke-width="1.9" rx="1"/>
<line x1="1351" y1="1337.5" x2="2143.8" y2="1337.5" stroke="#969696" stroke-width="1.7"/>
<text transform="translate(1323.5 1350.5)" font-size="40.8" text-anchor="end" xml:space="preserve">0</text>
<line x1="1351" y1="1268.33" x2="2143.8" y2="1268.33" stroke="#969696" stroke-width="1.7"/>
<text transform="translate(1323.5 1281.33)" font-size="40.8" text-anchor="end" xml:space="preserve">10</text>
<line x1="1351" y1="1199.17" x2="2143.8" y2="1199.17" stroke="#969696" stroke-width="1.7"/>
<text transform="translate(1323.5 1212.17)" font-size="40.8" text-anchor="end" xml:space="preserve">20</text>
<line x1="1351" y1="1130" x2="2143.8" y2="1130" stroke="#969696" stroke-width="1.7"/>
<text transform="translate(1323.5 1143)" font-size="40.8" text-anchor="end" xml:space="preserve">30</text>
<line x1="1351" y1="1060.83" x2="2143.8" y2="1060.83" stroke="#969696" stroke-width="1.7"/>
<text transform="translate(1323.5 1073.83)" font-size="40.8" text-anchor="end" xml:space="preserve">40</text>
<line x1="1351" y1="991.67" x2="2143.8" y2="991.67" stroke="#969696" stroke-width="1.7"/>
<text transform="translate(1323.5 1004.67)" font-size="40.8" text-anchor="end" xml:space="preserve">50</text>
<line x1="1351" y1="922.5" x2="2143.8" y2="922.5" stroke="#969696" stroke-width="1.7"/>
<text transform="translate(1323.5 935.5)" font-size="40.8" text-anchor="end" xml:space="preserve">60</text>
<rect x="1413.7" y="1233.75" width="28" height="103.75" fill="#DD4F4C"/>
<rect x="1511.03" y="1001.35" width="28" height="336.15" fill="#DD4F4C"/>
<rect x="1608.35" y="1199.17" width="28" height="138.33" fill="#DD4F4C"/>
<rect x="1705.68" y="1169.42" width="28" height="168.08" fill="#DD4F4C"/>
<rect x="1803" y="1151.44" width="28" height="186.06" fill="#DD4F4C"/>
<rect x="1900.33" y="1182.57" width="28" height="154.93" fill="#DD4F4C"/>
<rect x="1997.65" y="1156.97" width="28" height="180.53" fill="#DD4F4C"/>
<rect x="2094.98" y="1130" width="28" height="207.5" fill="#DD4F4C"/>
<line x1="1365.2" y1="922.5" x2="1365.2" y2="1351.5" stroke="#969696" stroke-width="1.7"/>
<line x1="1462.53" y1="1337.5" x2="1462.53" y2="1351.5" stroke="#969696" stroke-width="1.7"/>
<line x1="1559.85" y1="1337.5" x2="1559.85" y2="1351.5" stroke="#969696" stroke-width="1.7"/>
<line x1="1657.18" y1="1337.5" x2="1657.18" y2="1351.5" stroke="#969696" stroke-width="1.7"/>
<line x1="1754.5" y1="1337.5" x2="1754.5" y2="1351.5" stroke="#969696" stroke-width="1.7"/>
<line x1="1851.83" y1="1337.5" x2="1851.83" y2="1351.5" stroke="#969696" stroke-width="1.7"/>
<line x1="1949.15" y1="1337.5" x2="1949.15" y2="1351.5" stroke="#969696" stroke-width="1.7"/>
<line x1="2046.48" y1="1337.5" x2="2046.48" y2="1351.5" stroke="#969696" stroke-width="1.7"/>
<line x1="2143.8" y1="1337.5" x2="2143.8" y2="1351.5" stroke="#969696" stroke-width="1.7"/>
<line x1="1427.7" y1="1219.92" x2="1427.7" y2="1233.75" stroke="#1e1e1e" stroke-width="1.9"/>
<line x1="1421.45" y1="1219.92" x2="1433.95" y2="1219.92" stroke="#1e1e1e" stroke-width="1.9"/>
<line x1="1525.03" y1="987.52" x2="1525.03" y2="1001.35" stroke="#1e1e1e" stroke-width="1.9"/>
<line x1="1518.78" y1="987.52" x2="1531.28" y2="987.52" stroke="#1e1e1e" stroke-width="1.9"/>
<line x1="1622.35" y1="1185.33" x2="1622.35" y2="1199.17" stroke="#1e1e1e" stroke-width="1.9"/>
<line x1="1616.1" y1="1185.33" x2="1628.6" y2="1185.33" stroke="#1e1e1e" stroke-width="1.9"/>
<line x1="1719.68" y1="1155.59" x2="1719.68" y2="1169.42" stroke="#1e1e1e" stroke-width="1.9"/>
<line x1="1713.43" y1="1155.59" x2="1725.93" y2="1155.59" stroke="#1e1e1e" stroke-width="1.9"/>
<line x1="1817" y1="1137.61" x2="1817" y2="1151.44" stroke="#1e1e1e" stroke-width="1.9"/>
<line x1="1810.75" y1="1137.61" x2="1823.25" y2="1137.61" stroke="#1e1e1e" stroke-width="1.9"/>
<line x1="1914.33" y1="1168.73" x2="1914.33" y2="1182.57" stroke="#1e1e1e" stroke-width="1.9"/>
<line x1="1908.08" y1="1168.73" x2="1920.58" y2="1168.73" stroke="#1e1e1e" stroke-width="1.9"/>
<line x1="2011.65" y1="1143.14" x2="2011.65" y2="1156.97" stroke="#1e1e1e" stroke-width="1.9"/>
<line x1="2005.4" y1="1143.14" x2="2017.9" y2="1143.14" stroke="#1e1e1e" stroke-width="1.9"/>
<line x1="2108.98" y1="1116.17" x2="2108.98" y2="1130" stroke="#1e1e1e" stroke-width="1.9"/>
<line x1="2102.73" y1="1116.17" x2="2115.23" y2="1116.17" stroke="#1e1e1e" stroke-width="1.9"/>
<text transform="translate(1424.06 1396.8) rotate(-45) scale(0.9862 1)" font-size="39.73" text-anchor="end" xml:space="preserve">CM</text>
<text transform="translate(1521.39 1396.8) rotate(-45) scale(0.8164 1)" font-size="39.73" text-anchor="end" xml:space="preserve">LPS</text>
<text transform="translate(1618.71 1396.8) rotate(-45) scale(0.9760 1)" font-size="39.73" text-anchor="end" xml:space="preserve">Hsp70</text>
<text transform="translate(1716.04 1396.8) rotate(-45) scale(0.9145 1)" font-size="39.73" text-anchor="end" xml:space="preserve">Hsp70 + LPS</text>
<text transform="translate(1813.36 1396.8) rotate(-45) scale(0.9145 1)" font-size="39.73" text-anchor="end" xml:space="preserve">LPS + Hsp70</text>
<text transform="translate(1910.69 1396.8) rotate(-45) scale(0.9496 1)" font-size="39.73" text-anchor="end" xml:space="preserve">Hsp70 + 2 mM STS</text>
<text transform="translate(2008.01 1396.8) rotate(-45) scale(0.9255 1)" font-size="39.73" text-anchor="end" xml:space="preserve">Hsp70 + 2 mM STS + LPS</text>
<text transform="translate(2118.34 1379.8) rotate(-45) scale(0.9255 1)" font-size="39.73" text-anchor="end" xml:space="preserve">LPS + Hsp70 + 2 mM STS</text>
<text transform="translate(1622.5 1134.64)" font-size="32" text-anchor="middle" class="st" xml:space="preserve">*</text>
<text transform="translate(1622.5 1156.24)" font-size="32" text-anchor="middle" class="st" xml:space="preserve">*</text>
<text transform="translate(1622.5 1178.04)" font-size="32" text-anchor="middle" class="st" xml:space="preserve">*</text>
<text transform="translate(1719.7 1112.44)" font-size="32" text-anchor="middle" class="st" xml:space="preserve">*</text>
<text transform="translate(1719.7 1134.04)" font-size="32" text-anchor="middle" class="st" xml:space="preserve">*</text>
<text transform="translate(1719.7 1156.24)" font-size="32" text-anchor="middle" class="st" xml:space="preserve">*</text>
<text transform="translate(1816.8 1089.34)" font-size="32" text-anchor="middle" class="st" xml:space="preserve">*</text>
<text transform="translate(1816.8 1111.24)" font-size="32" text-anchor="middle" class="st" xml:space="preserve">*</text>
<text transform="translate(1816.8 1134.04)" font-size="32" text-anchor="middle" class="st" xml:space="preserve">*</text>
<text transform="translate(1914.2 1115.34)" font-size="32" text-anchor="middle" class="st" xml:space="preserve">*</text>
<text transform="translate(1914.2 1136.94)" font-size="32" text-anchor="middle" class="st" xml:space="preserve">*</text>
<text transform="translate(1914.2 1159.94)" font-size="32" text-anchor="middle" class="st" xml:space="preserve">*</text>
<text transform="translate(2011.2 1090.84)" font-size="32" text-anchor="middle" class="st" xml:space="preserve">*</text>
<text transform="translate(2011.2 1113.04)" font-size="32" text-anchor="middle" class="st" xml:space="preserve">*</text>
<text transform="translate(2011.2 1135.44)" font-size="32" text-anchor="middle" class="st" xml:space="preserve">*</text>
<text transform="translate(2109.1 1066.34)" font-size="32" text-anchor="middle" class="st" xml:space="preserve">*</text>
<text transform="translate(2109.1 1088.54)" font-size="32" text-anchor="middle" class="st" xml:space="preserve">*</text>
<text transform="translate(2109.1 1110.94)" font-size="32" text-anchor="middle" class="st" xml:space="preserve">*</text>
<text transform="translate(1527.5 975)" font-size="35" text-anchor="middle" class="hs" xml:space="preserve">#</text>
<text transform="translate(1225.23 1010.75) scale(0.5878 0.6483)" font-size="100" class="lt" style="stroke-width:0.9px">D</text>
<text transform="translate(1255.4 1158.5) rotate(-90) scale(1.0807 1)" font-size="40.73" text-anchor="middle" font-weight="bold" xml:space="preserve">NO, µM</text>
</g>
<g id="pE">
<rect x="9" y="1787.5" width="1191.3" height="908" fill="#fff" stroke="#999999" stroke-width="2.1" rx="1"/>
<line x1="194" y1="2378.8" x2="1055.3" y2="2378.8" stroke="#969696" stroke-width="1.7"/>
<text transform="translate(168 2391.8)" font-size="40.8" text-anchor="end" xml:space="preserve">0</text>
<line x1="194" y1="2300.23" x2="1055.3" y2="2300.23" stroke="#969696" stroke-width="1.7"/>
<text transform="translate(168 2313.23)" font-size="40.8" text-anchor="end" xml:space="preserve">10</text>
<line x1="194" y1="2221.66" x2="1055.3" y2="2221.66" stroke="#969696" stroke-width="1.7"/>
<text transform="translate(168 2234.66)" font-size="40.8" text-anchor="end" xml:space="preserve">20</text>
<line x1="194" y1="2143.09" x2="1055.3" y2="2143.09" stroke="#969696" stroke-width="1.7"/>
<text transform="translate(168 2156.09)" font-size="40.8" text-anchor="end" xml:space="preserve">30</text>
<line x1="194" y1="2064.51" x2="1055.3" y2="2064.51" stroke="#969696" stroke-width="1.7"/>
<text transform="translate(168 2077.51)" font-size="40.8" text-anchor="end" xml:space="preserve">40</text>
<line x1="194" y1="1985.94" x2="885" y2="1985.94" stroke="#969696" stroke-width="1.7"/>
<text transform="translate(168 1998.94)" font-size="40.8" text-anchor="end" xml:space="preserve">50</text>
<line x1="194" y1="1907.37" x2="885" y2="1907.37" stroke="#969696" stroke-width="1.7"/>
<text transform="translate(168 1920.37)" font-size="40.8" text-anchor="end" xml:space="preserve">60</text>
<line x1="194" y1="1828.8" x2="885" y2="1828.8" stroke="#969696" stroke-width="1.7"/>
<text transform="translate(168 1841.8)" font-size="40.8" text-anchor="end" xml:space="preserve">70</text>
<rect x="223.49" y="2339.51" width="20.93" height="39.29" fill="#2481BE"/>
<rect x="317.66" y="1946.66" width="20.93" height="432.14" fill="#515151"/>
<rect x="411.83" y="2339.51" width="20.93" height="39.29" fill="#2481BE"/>
<rect x="432.75" y="1974.16" width="20.93" height="404.64" fill="#DD4F4C"/>
<rect x="453.68" y="1949.8" width="20.93" height="429" fill="#8CBC4F"/>
<rect x="505.99" y="2325.37" width="20.93" height="53.43" fill="#2481BE"/>
<rect x="526.92" y="2040.94" width="20.93" height="337.86" fill="#DD4F4C"/>
<rect x="547.85" y="1998.51" width="20.93" height="380.29" fill="#8CBC4F"/>
<rect x="600.16" y="2315.16" width="20.93" height="63.64" fill="#2481BE"/>
<rect x="621.09" y="2103.8" width="20.93" height="275" fill="#DD4F4C"/>
<rect x="642.01" y="2017.37" width="20.93" height="361.43" fill="#8CBC4F"/>
<rect x="694.33" y="2307.3" width="20.93" height="71.5" fill="#2481BE"/>
<rect x="715.25" y="2143.09" width="20.93" height="235.71" fill="#DD4F4C"/>
<rect x="736.18" y="2037.01" width="20.93" height="341.79" fill="#8CBC4F"/>
<rect x="788.49" y="2308.09" width="20.93" height="70.71" fill="#2481BE"/>
<rect x="809.42" y="2170.59" width="20.93" height="208.21" fill="#DD4F4C"/>
<rect x="830.35" y="2067.66" width="20.93" height="311.14" fill="#8CBC4F"/>
<rect x="882.66" y="2319.87" width="20.93" height="58.93" fill="#2481BE"/>
<rect x="903.59" y="2275.87" width="20.93" height="102.93" fill="#DD4F4C"/>
<rect x="924.51" y="2146.23" width="20.93" height="232.57" fill="#8CBC4F"/>
<rect x="976.83" y="2323.8" width="20.93" height="55" fill="#2481BE"/>
<rect x="997.75" y="2229.51" width="20.93" height="149.29" fill="#DD4F4C"/>
<rect x="1018.68" y="2222.44" width="20.93" height="156.36" fill="#8CBC4F"/>
<line x1="207.8" y1="1828.8" x2="207.8" y2="2392.8" stroke="#969696" stroke-width="1.7"/>
<line x1="301.97" y1="2378.8" x2="301.97" y2="2392.8" stroke="#969696" stroke-width="1.7"/>
<line x1="396.13" y1="2378.8" x2="396.13" y2="2392.8" stroke="#969696" stroke-width="1.7"/>
<line x1="490.3" y1="2378.8" x2="490.3" y2="2392.8" stroke="#969696" stroke-width="1.7"/>
<line x1="584.47" y1="2378.8" x2="584.47" y2="2392.8" stroke="#969696" stroke-width="1.7"/>
<line x1="678.63" y1="2378.8" x2="678.63" y2="2392.8" stroke="#969696" stroke-width="1.7"/>
<line x1="772.8" y1="2378.8" x2="772.8" y2="2392.8" stroke="#969696" stroke-width="1.7"/>
<line x1="866.97" y1="2378.8" x2="866.97" y2="2392.8" stroke="#969696" stroke-width="1.7"/>
<line x1="961.13" y1="2378.8" x2="961.13" y2="2392.8" stroke="#969696" stroke-width="1.7"/>
<line x1="1055.3" y1="2378.8" x2="1055.3" y2="2392.8" stroke="#969696" stroke-width="1.7"/>
<line x1="233.96" y1="2331.66" x2="233.96" y2="2339.51" stroke="#1e1e1e" stroke-width="1.9"/>
<line x1="227.71" y1="2331.66" x2="240.21" y2="2331.66" stroke="#1e1e1e" stroke-width="1.9"/>
<line x1="328.12" y1="1938.8" x2="328.12" y2="1946.66" stroke="#1e1e1e" stroke-width="1.9"/>
<line x1="321.87" y1="1938.8" x2="334.37" y2="1938.8" stroke="#1e1e1e" stroke-width="1.9"/>
<line x1="422.29" y1="2331.66" x2="422.29" y2="2339.51" stroke="#1e1e1e" stroke-width="1.9"/>
<line x1="416.04" y1="2331.66" x2="428.54" y2="2331.66" stroke="#1e1e1e" stroke-width="1.9"/>
<line x1="443.22" y1="1946.66" x2="443.22" y2="1974.16" stroke="#1e1e1e" stroke-width="1.9"/>
<line x1="436.97" y1="1946.66" x2="449.47" y2="1946.66" stroke="#1e1e1e" stroke-width="1.9"/>
<line x1="464.14" y1="1926.23" x2="464.14" y2="1949.8" stroke="#1e1e1e" stroke-width="1.9"/>
<line x1="457.89" y1="1926.23" x2="470.39" y2="1926.23" stroke="#1e1e1e" stroke-width="1.9"/>
<line x1="516.46" y1="2317.51" x2="516.46" y2="2325.37" stroke="#1e1e1e" stroke-width="1.9"/>
<line x1="510.21" y1="2317.51" x2="522.71" y2="2317.51" stroke="#1e1e1e" stroke-width="1.9"/>
<line x1="537.38" y1="2013.44" x2="537.38" y2="2040.94" stroke="#1e1e1e" stroke-width="1.9"/>
<line x1="531.13" y1="2013.44" x2="543.63" y2="2013.44" stroke="#1e1e1e" stroke-width="1.9"/>
<line x1="558.31" y1="1974.94" x2="558.31" y2="1998.51" stroke="#1e1e1e" stroke-width="1.9"/>
<line x1="552.06" y1="1974.94" x2="564.56" y2="1974.94" stroke="#1e1e1e" stroke-width="1.9"/>
<line x1="610.62" y1="2307.3" x2="610.62" y2="2315.16" stroke="#1e1e1e" stroke-width="1.9"/>
<line x1="604.37" y1="2307.3" x2="616.87" y2="2307.3" stroke="#1e1e1e" stroke-width="1.9"/>
<line x1="631.55" y1="2076.3" x2="631.55" y2="2103.8" stroke="#1e1e1e" stroke-width="1.9"/>
<line x1="625.3" y1="2076.3" x2="637.8" y2="2076.3" stroke="#1e1e1e" stroke-width="1.9"/>
<line x1="652.48" y1="1993.8" x2="652.48" y2="2017.37" stroke="#1e1e1e" stroke-width="1.9"/>
<line x1="646.23" y1="1993.8" x2="658.73" y2="1993.8" stroke="#1e1e1e" stroke-width="1.9"/>
<line x1="704.79" y1="2299.44" x2="704.79" y2="2307.3" stroke="#1e1e1e" stroke-width="1.9"/>
<line x1="698.54" y1="2299.44" x2="711.04" y2="2299.44" stroke="#1e1e1e" stroke-width="1.9"/>
<line x1="725.72" y1="2115.59" x2="725.72" y2="2143.09" stroke="#1e1e1e" stroke-width="1.9"/>
<line x1="719.47" y1="2115.59" x2="731.97" y2="2115.59" stroke="#1e1e1e" stroke-width="1.9"/>
<line x1="746.64" y1="2013.44" x2="746.64" y2="2037.01" stroke="#1e1e1e" stroke-width="1.9"/>
<line x1="740.39" y1="2013.44" x2="752.89" y2="2013.44" stroke="#1e1e1e" stroke-width="1.9"/>
<line x1="798.96" y1="2300.23" x2="798.96" y2="2308.09" stroke="#1e1e1e" stroke-width="1.9"/>
<line x1="792.71" y1="2300.23" x2="805.21" y2="2300.23" stroke="#1e1e1e" stroke-width="1.9"/>
<line x1="819.88" y1="2143.09" x2="819.88" y2="2170.59" stroke="#1e1e1e" stroke-width="1.9"/>
<line x1="813.63" y1="2143.09" x2="826.13" y2="2143.09" stroke="#1e1e1e" stroke-width="1.9"/>
<line x1="840.81" y1="2044.09" x2="840.81" y2="2067.66" stroke="#1e1e1e" stroke-width="1.9"/>
<line x1="834.56" y1="2044.09" x2="847.06" y2="2044.09" stroke="#1e1e1e" stroke-width="1.9"/>
<line x1="893.12" y1="2312.01" x2="893.12" y2="2319.87" stroke="#1e1e1e" stroke-width="1.9"/>
<line x1="886.87" y1="2312.01" x2="899.37" y2="2312.01" stroke="#1e1e1e" stroke-width="1.9"/>
<line x1="914.05" y1="2248.37" x2="914.05" y2="2275.87" stroke="#1e1e1e" stroke-width="1.9"/>
<line x1="907.8" y1="2248.37" x2="920.3" y2="2248.37" stroke="#1e1e1e" stroke-width="1.9"/>
<line x1="934.98" y1="2122.66" x2="934.98" y2="2146.23" stroke="#1e1e1e" stroke-width="1.9"/>
<line x1="928.73" y1="2122.66" x2="941.23" y2="2122.66" stroke="#1e1e1e" stroke-width="1.9"/>
<line x1="987.29" y1="2315.94" x2="987.29" y2="2323.8" stroke="#1e1e1e" stroke-width="1.9"/>
<line x1="981.04" y1="2315.94" x2="993.54" y2="2315.94" stroke="#1e1e1e" stroke-width="1.9"/>
<line x1="1008.22" y1="2202.01" x2="1008.22" y2="2229.51" stroke="#1e1e1e" stroke-width="1.9"/>
<line x1="1001.97" y1="2202.01" x2="1014.47" y2="2202.01" stroke="#1e1e1e" stroke-width="1.9"/>
<line x1="1029.14" y1="2198.87" x2="1029.14" y2="2222.44" stroke="#1e1e1e" stroke-width="1.9"/>
<line x1="1022.89" y1="2198.87" x2="1035.39" y2="2198.87" stroke="#1e1e1e" stroke-width="1.9"/>
<text transform="translate(263.68 2433.5) rotate(-45) scale(0.9862 1)" font-size="40.73" text-anchor="end" xml:space="preserve">CM</text>
<text transform="translate(357.85 2433.5) rotate(-45) scale(0.8164 1)" font-size="40.73" text-anchor="end" xml:space="preserve">LPS</text>
<text transform="translate(452.02 2433.5) rotate(-45) scale(0.9383 1)" font-size="40.73" text-anchor="end" xml:space="preserve">0.2    µM STS</text>
<text transform="translate(546.18 2433.5) rotate(-45) scale(0.9276 1)" font-size="40.73" text-anchor="end" xml:space="preserve">1    µM STS</text>
<text transform="translate(640.35 2433.5) rotate(-45) scale(0.9276 1)" font-size="40.73" text-anchor="end" xml:space="preserve">5    µM STS</text>
<text transform="translate(734.52 2433.5) rotate(-45) scale(0.9352 1)" font-size="40.73" text-anchor="end" xml:space="preserve">20    µM STS</text>
<text transform="translate(828.68 2433.5) rotate(-45) scale(0.9414 1)" font-size="40.73" text-anchor="end" xml:space="preserve">100    µM STS</text>
<text transform="translate(922.85 2433.5) rotate(-45) scale(0.9414 1)" font-size="40.73" text-anchor="end" xml:space="preserve">500    µM STS</text>
<text transform="translate(1017.02 2433.5) rotate(-45) scale(0.9466 1)" font-size="40.73" text-anchor="end" xml:space="preserve">2000    µM STS</text>
<text transform="translate(537.3 1990.24)" font-size="32" text-anchor="middle" class="st" xml:space="preserve">*</text>
<text transform="translate(537.3 2012.44)" font-size="32" text-anchor="middle" class="st" xml:space="preserve">*</text>
<text transform="translate(631.5 2021.04)" font-size="32" text-anchor="middle" class="st" xml:space="preserve">*</text>
<text transform="translate(631.5 2043.24)" font-size="32" text-anchor="middle" class="st" xml:space="preserve">*</text>
<text transform="translate(631.5 2065.64)" font-size="32" text-anchor="middle" class="st" xml:space="preserve">*</text>
<text transform="translate(652.3 1989.34)" font-size="32" text-anchor="middle" class="st" xml:space="preserve">*</text>
<text transform="translate(725.7 2070.04)" font-size="32" text-anchor="middle" class="st" xml:space="preserve">*</text>
<text transform="translate(725.7 2092.24)" font-size="32" text-anchor="middle" class="st" xml:space="preserve">*</text>
<text transform="translate(725.7 2114.64)" font-size="32" text-anchor="middle" class="st" xml:space="preserve">*</text>
<text transform="translate(746.2 1990.24)" font-size="32" text-anchor="middle" class="st" xml:space="preserve">*</text>
<text transform="translate(746.2 2012.44)" font-size="32" text-anchor="middle" class="st" xml:space="preserve">*</text>
<text transform="translate(819.6 2101.44)" font-size="32" text-anchor="middle" class="st" xml:space="preserve">*</text>
<text transform="translate(819.6 2123.54)" font-size="32" text-anchor="middle" class="st" xml:space="preserve">*</text>
<text transform="translate(819.6 2145.64)" font-size="32" text-anchor="middle" class="st" xml:space="preserve">*</text>
<text transform="translate(840.5 1991.44)" font-size="32" text-anchor="middle" class="st" xml:space="preserve">*</text>
<text transform="translate(840.5 2013.24)" font-size="32" text-anchor="middle" class="st" xml:space="preserve">*</text>
<text transform="translate(840.5 2035.44)" font-size="32" text-anchor="middle" class="st" xml:space="preserve">*</text>
<text transform="translate(913.8 2181.74)" font-size="32" text-anchor="middle" class="st" xml:space="preserve">*</text>
<text transform="translate(913.8 2204.04)" font-size="32" text-anchor="middle" class="st" xml:space="preserve">*</text>
<text transform="translate(913.8 2226.04)" font-size="32" text-anchor="middle" class="st" xml:space="preserve">*</text>
<text transform="translate(913.8 2248.04)" font-size="32" text-anchor="middle" class="st" xml:space="preserve">*</text>
<text transform="translate(935.3 2070.04)" font-size="32" text-anchor="middle" class="st" xml:space="preserve">*</text>
<text transform="translate(935.3 2092.54)" font-size="32" text-anchor="middle" class="st" xml:space="preserve">*</text>
<text transform="translate(935.3 2115.04)" font-size="32" text-anchor="middle" class="st" xml:space="preserve">*</text>
<text transform="translate(1008 2137.94)" font-size="32" text-anchor="middle" class="st" xml:space="preserve">*</text>
<text transform="translate(1008 2160.04)" font-size="32" text-anchor="middle" class="st" xml:space="preserve">*</text>
<text transform="translate(1008 2182.04)" font-size="32" text-anchor="middle" class="st" xml:space="preserve">*</text>
<text transform="translate(1008 2204.44)" font-size="32" text-anchor="middle" class="st" xml:space="preserve">*</text>
<text transform="translate(1029.4 2131.64)" font-size="32" text-anchor="middle" class="st" xml:space="preserve">*</text>
<text transform="translate(1029.4 2153.54)" font-size="32" text-anchor="middle" class="st" xml:space="preserve">*</text>
<text transform="translate(1029.4 2175.54)" font-size="32" text-anchor="middle" class="st" xml:space="preserve">*</text>
<text transform="translate(1029.4 2197.84)" font-size="32" text-anchor="middle" class="st" xml:space="preserve">*</text>
<text transform="translate(331 1924.5)" font-size="35" text-anchor="middle" class="hs" xml:space="preserve">#</text>
<text transform="translate(26.66 1863.1) scale(0.4557 0.6599)" font-size="100" class="lt" style="stroke-width:1.6px">E</text>
<text transform="translate(76.1 2096.7) rotate(-90) scale(0.9647 1)" font-size="40.73" text-anchor="middle" font-weight="bold" xml:space="preserve">TNFa, pg/ml</text>
<rect x="925" y="1812.75" width="24.5" height="24.5" fill="#2481BE"/>
<text transform="translate(961 1837.8) scale(0.9970 1)" font-size="40.09" xml:space="preserve">without LPS</text>
<rect x="925" y="1862.05" width="24.5" height="24.5" fill="#515151"/>
<text transform="translate(961 1887.1) scale(0.8164 1)" font-size="40.09" xml:space="preserve">LPS</text>
<rect x="925" y="1914.25" width="24.5" height="24.5" fill="#DD4F4C"/>
<text transform="translate(961 1939.3) scale(0.8336 1)" font-size="40.09" xml:space="preserve">STS + LPS</text>
<rect x="925" y="1966.25" width="24.5" height="24.5" fill="#8CBC4F"/>
<text transform="translate(961 1991.3) scale(0.8336 1)" font-size="40.09" xml:space="preserve">LPS + STS</text>
</g>
<g id="pF">
<rect x="1207.7" y="1787.6" width="962.7" height="908" fill="#fff" stroke="#999999" stroke-width="2.1" rx="1"/>
<line x1="1366" y1="2288.5" x2="2144.4" y2="2288.5" stroke="#969696" stroke-width="1.7"/>
<text transform="translate(1338 2301.5)" font-size="40.8" text-anchor="end" xml:space="preserve">0</text>
<line x1="1366" y1="2225.81" x2="2144.4" y2="2225.81" stroke="#969696" stroke-width="1.7"/>
<text transform="translate(1338 2238.81)" font-size="40.8" text-anchor="end" xml:space="preserve">10</text>
<line x1="1366" y1="2163.13" x2="2144.4" y2="2163.13" stroke="#969696" stroke-width="1.7"/>
<text transform="translate(1338 2176.13)" font-size="40.8" text-anchor="end" xml:space="preserve">20</text>
<line x1="1366" y1="2100.44" x2="2144.4" y2="2100.44" stroke="#969696" stroke-width="1.7"/>
<text transform="translate(1338 2113.44)" font-size="40.8" text-anchor="end" xml:space="preserve">30</text>
<line x1="1366" y1="2037.76" x2="2144.4" y2="2037.76" stroke="#969696" stroke-width="1.7"/>
<text transform="translate(1338 2050.76)" font-size="40.8" text-anchor="end" xml:space="preserve">40</text>
<line x1="1366" y1="1975.07" x2="2144.4" y2="1975.07" stroke="#969696" stroke-width="1.7"/>
<text transform="translate(1338 1988.07)" font-size="40.8" text-anchor="end" xml:space="preserve">50</text>
<line x1="1366" y1="1912.39" x2="2144.4" y2="1912.39" stroke="#969696" stroke-width="1.7"/>
<text transform="translate(1338 1925.39)" font-size="40.8" text-anchor="end" xml:space="preserve">60</text>
<line x1="1366" y1="1849.7" x2="2144.4" y2="1849.7" stroke="#969696" stroke-width="1.7"/>
<text transform="translate(1338 1862.7)" font-size="40.8" text-anchor="end" xml:space="preserve">70</text>
<rect x="1426.8" y="2257.16" width="27.6" height="31.34" fill="#DD4F4C"/>
<rect x="1522.4" y="1943.73" width="27.6" height="344.77" fill="#DD4F4C"/>
<rect x="1618" y="2179.43" width="27.6" height="109.07" fill="#DD4F4C"/>
<rect x="1713.6" y="2123.01" width="27.6" height="165.49" fill="#DD4F4C"/>
<rect x="1809.2" y="2097.94" width="27.6" height="190.56" fill="#DD4F4C"/>
<rect x="1904.8" y="2176.29" width="27.6" height="112.21" fill="#DD4F4C"/>
<rect x="2000.4" y="2072.86" width="27.6" height="215.64" fill="#DD4F4C"/>
<rect x="2096" y="2065.34" width="27.6" height="223.16" fill="#DD4F4C"/>
<line x1="1379.6" y1="1849.7" x2="1379.6" y2="2302.5" stroke="#969696" stroke-width="1.7"/>
<line x1="1475.2" y1="2288.5" x2="1475.2" y2="2302.5" stroke="#969696" stroke-width="1.7"/>
<line x1="1570.8" y1="2288.5" x2="1570.8" y2="2302.5" stroke="#969696" stroke-width="1.7"/>
<line x1="1666.4" y1="2288.5" x2="1666.4" y2="2302.5" stroke="#969696" stroke-width="1.7"/>
<line x1="1762" y1="2288.5" x2="1762" y2="2302.5" stroke="#969696" stroke-width="1.7"/>
<line x1="1857.6" y1="2288.5" x2="1857.6" y2="2302.5" stroke="#969696" stroke-width="1.7"/>
<line x1="1953.2" y1="2288.5" x2="1953.2" y2="2302.5" stroke="#969696" stroke-width="1.7"/>
<line x1="2048.8" y1="2288.5" x2="2048.8" y2="2302.5" stroke="#969696" stroke-width="1.7"/>
<line x1="2144.4" y1="2288.5" x2="2144.4" y2="2302.5" stroke="#969696" stroke-width="1.7"/>
<line x1="1440.6" y1="2238.35" x2="1440.6" y2="2257.16" stroke="#1e1e1e" stroke-width="1.9"/>
<line x1="1434.35" y1="2238.35" x2="1446.85" y2="2238.35" stroke="#1e1e1e" stroke-width="1.9"/>
<line x1="1536.2" y1="1924.92" x2="1536.2" y2="1943.73" stroke="#1e1e1e" stroke-width="1.9"/>
<line x1="1529.95" y1="1924.92" x2="1542.45" y2="1924.92" stroke="#1e1e1e" stroke-width="1.9"/>
<line x1="1631.8" y1="2160.62" x2="1631.8" y2="2179.43" stroke="#1e1e1e" stroke-width="1.9"/>
<line x1="1625.55" y1="2160.62" x2="1638.05" y2="2160.62" stroke="#1e1e1e" stroke-width="1.9"/>
<line x1="1727.4" y1="2104.2" x2="1727.4" y2="2123.01" stroke="#1e1e1e" stroke-width="1.9"/>
<line x1="1721.15" y1="2104.2" x2="1733.65" y2="2104.2" stroke="#1e1e1e" stroke-width="1.9"/>
<line x1="1823" y1="2079.13" x2="1823" y2="2097.94" stroke="#1e1e1e" stroke-width="1.9"/>
<line x1="1816.75" y1="2079.13" x2="1829.25" y2="2079.13" stroke="#1e1e1e" stroke-width="1.9"/>
<line x1="1918.6" y1="2157.49" x2="1918.6" y2="2176.29" stroke="#1e1e1e" stroke-width="1.9"/>
<line x1="1912.35" y1="2157.49" x2="1924.85" y2="2157.49" stroke="#1e1e1e" stroke-width="1.9"/>
<line x1="2014.2" y1="2054.06" x2="2014.2" y2="2072.86" stroke="#1e1e1e" stroke-width="1.9"/>
<line x1="2007.95" y1="2054.06" x2="2020.45" y2="2054.06" stroke="#1e1e1e" stroke-width="1.9"/>
<line x1="2109.8" y1="2046.53" x2="2109.8" y2="2065.34" stroke="#1e1e1e" stroke-width="1.9"/>
<line x1="2103.55" y1="2046.53" x2="2116.05" y2="2046.53" stroke="#1e1e1e" stroke-width="1.9"/>
<text transform="translate(1437.6 2347.8) rotate(-45) scale(0.9862 1)" font-size="40" text-anchor="end" xml:space="preserve">CM</text>
<text transform="translate(1533.2 2347.8) rotate(-45) scale(0.8164 1)" font-size="40" text-anchor="end" xml:space="preserve">LPS</text>
<text transform="translate(1628.8 2347.8) rotate(-45) scale(0.9760 1)" font-size="40" text-anchor="end" xml:space="preserve">Hsp70</text>
<text transform="translate(1724.4 2347.8) rotate(-45) scale(0.9145 1)" font-size="40" text-anchor="end" xml:space="preserve">Hsp70 + LPS</text>
<text transform="translate(1820 2347.8) rotate(-45) scale(0.9145 1)" font-size="40" text-anchor="end" xml:space="preserve">LPS + Hsp70</text>
<text transform="translate(1915.6 2347.8) rotate(-45) scale(0.9496 1)" font-size="40" text-anchor="end" xml:space="preserve">Hsp70 + 2 mM STS</text>
<text transform="translate(2019.2 2347.8) rotate(-45) scale(0.9255 1)" font-size="40" text-anchor="end" xml:space="preserve">Hsp70 + 2 mM STS + LPS</text>
<text transform="translate(2118.6 2347.8) rotate(-45) scale(0.9255 1)" font-size="40" text-anchor="end" xml:space="preserve">LPS + Hsp70 + 2 mM STS</text>
<text transform="translate(1632 2083.84)" font-size="32" text-anchor="middle" class="st" xml:space="preserve">*</text>
<text transform="translate(1632 2106.04)" font-size="32" text-anchor="middle" class="st" xml:space="preserve">*</text>
<text transform="translate(1632 2128.24)" font-size="32" text-anchor="middle" class="st" xml:space="preserve">*</text>
<text transform="translate(1632 2150.64)" font-size="32" text-anchor="middle" class="st" xml:space="preserve">*</text>
<text transform="translate(1727.8 2042.64)" font-size="32" text-anchor="middle" class="st" xml:space="preserve">*</text>
<text transform="translate(1727.8 2065.14)" font-size="32" text-anchor="middle" class="st" xml:space="preserve">*</text>
<text transform="translate(1727.8 2087.34)" font-size="32" text-anchor="middle" class="st" xml:space="preserve">*</text>
<text transform="translate(1822.9 2021.04)" font-size="32" text-anchor="middle" class="st" xml:space="preserve">*</text>
<text transform="translate(1822.9 2043.54)" font-size="32" text-anchor="middle" class="st" xml:space="preserve">*</text>
<text transform="translate(1822.9 2066.24)" font-size="32" text-anchor="middle" class="st" xml:space="preserve">*</text>
<text transform="translate(1919.1 2082.94)" font-size="32" text-anchor="middle" class="st" xml:space="preserve">*</text>
<text transform="translate(1919.1 2105.44)" font-size="32" text-anchor="middle" class="st" xml:space="preserve">*</text>
<text transform="translate(1919.1 2127.64)" font-size="32" text-anchor="middle" class="st" xml:space="preserve">*</text>
<text transform="translate(1919.1 2149.84)" font-size="32" text-anchor="middle" class="st" xml:space="preserve">*</text>
<text transform="translate(2014.7 2003.74)" font-size="32" text-anchor="middle" class="st" xml:space="preserve">*</text>
<text transform="translate(2014.7 2026.84)" font-size="32" text-anchor="middle" class="st" xml:space="preserve">*</text>
<text transform="translate(2014.7 2049.24)" font-size="32" text-anchor="middle" class="st" xml:space="preserve">*</text>
<text transform="translate(2110.3 1990.84)" font-size="32" text-anchor="middle" class="st" xml:space="preserve">*</text>
<text transform="translate(2110.3 2013.04)" font-size="32" text-anchor="middle" class="st" xml:space="preserve">*</text>
<text transform="translate(2110.3 2036.04)" font-size="32" text-anchor="middle" class="st" xml:space="preserve">*</text>
<text transform="translate(1537 1905)" font-size="35" text-anchor="middle" class="hs" xml:space="preserve">#</text>
<text transform="translate(1231.06 1863.1) scale(0.4806 0.6599)" font-size="100" class="lt" style="stroke-width:1.6px">F</text>
<text transform="translate(1258 2075) rotate(-90) scale(0.9835 1)" font-size="40.73" text-anchor="middle" font-weight="bold" xml:space="preserve">TNFa, pg/ml</text>
</g>
</svg>
</body></html>
